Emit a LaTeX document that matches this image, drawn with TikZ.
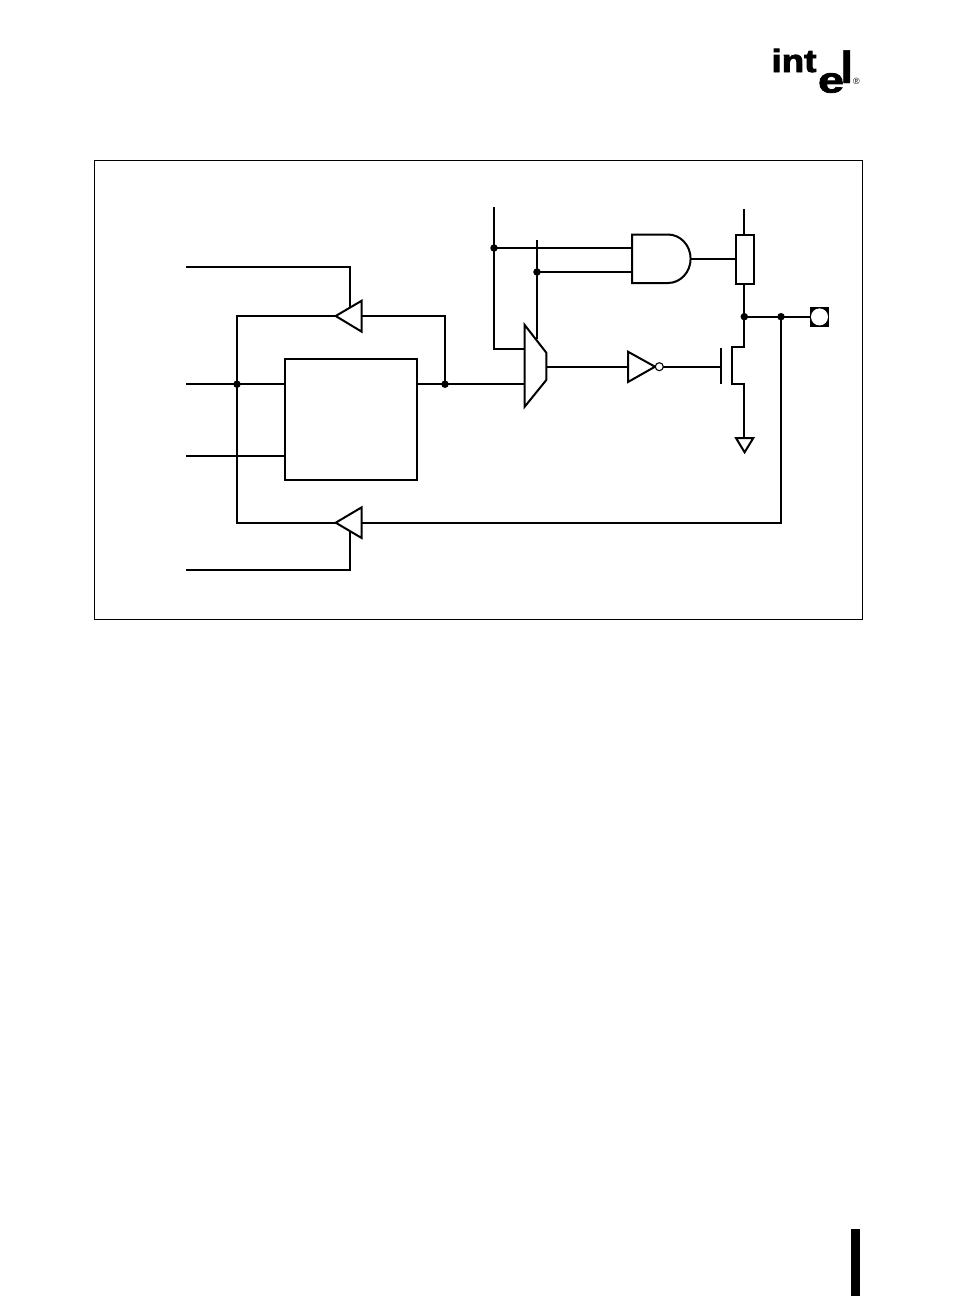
\documentclass[tikz,border=0pt]{standalone}
\usepackage{fontspec}
\setmainfont{Liberation Sans}
\usetikzlibrary{calc}
\tikzset{
  wire/.style={draw=black,line width=2pt,line join=miter},
  gate/.style={draw=black,fill=white,line width=2pt,line join=miter},
  junction/.style={circle,fill=black,inner sep=0pt,minimum size=7.5pt},
  bubble/.style={circle,draw=black,fill=white,line width=1.1pt,inner sep=0pt,minimum size=8pt},
  logo/.style={inner sep=0pt,outer sep=0pt,font=\bfseries,anchor=base west,transform shape},
}
\begin{document}
\begin{tikzpicture}[x=1pt,y=-1pt]
\useasboundingbox (0,0) rectangle (954,1296);
% page frame and margin bar
\draw[black,line width=1pt] (94.5,160.5) rectangle (862.5,619.5);
\fill[black] (851,1229) rectangle (860,1296);
% logo
\node[logo,xscale=1.15] (logoint) at (771.5,72) {\fontsize{32}{32}\selectfont\addfontfeatures{FakeBold=2.5}int};
\node[logo,xscale=1.3] (logoe) at (818,92.5) {\fontsize{36}{36}\selectfont\addfontfeatures{FakeBold=2}e};
\node[logo] (logol) at (840.5,83) {\fontsize{45}{45}\selectfont\addfontfeatures{FakeBold=1}l};
\node[inner sep=0pt,font=\fontsize{9}{9}\selectfont] (logor) at (856.5,81) {®};
% coordinates
\coordinate (topA) at (494,207);
\coordinate (topB) at (537,240);
\coordinate (jA) at (494,248);
\coordinate (jB) at (537,272);
\coordinate (muxA) at (524.7,348.7);
\coordinate (muxB) at (524.7,384.2);
\coordinate (muxT) at (537,338.5);
\coordinate (muxO) at (546.3,366.7);
\coordinate (andA) at (632,248);
\coordinate (andB) at (632,272);
\coordinate (andO) at (690.6,259);
\coordinate (resL) at (735.7,259);
\coordinate (vdd) at (744.3,209);
\coordinate (resT) at (744.3,234.5);
\coordinate (resB) at (744.3,284);
\coordinate (invI) at (628,366.7);
\coordinate (gateG) at (720.7,366.7);
\coordinate (chT) at (744.3,347.3);
\coordinate (chB) at (744.3,383.7);
\coordinate (gnd) at (744.3,438);
\coordinate (jC) at (744.3,316.7);
\coordinate (jD) at (781,316.7);
\coordinate (padL) at (810,316.7);
\coordinate (jE) at (445,384.2);
\coordinate (jF) at (237,384.2);
\coordinate (inA) at (186,384.2);
\coordinate (inB) at (186,455.7);
\coordinate (boxA) at (284.7,384.2);
\coordinate (boxB) at (284.7,455.7);
\coordinate (boxO) at (417,384.2);
\coordinate (ctlT) at (186,266.7);
\coordinate (ctlB) at (186,570);
\coordinate (trTtip) at (335.7,316);
\coordinate (trTr) at (361.7,316);
\coordinate (trBtip) at (335.7,522.7);
\coordinate (trBr) at (361.7,522.7);
% wires
\draw[wire] (topA) -- (jA) -- (muxA -| jA) -- (muxA);
\draw[wire] (jA) -- (andA);
\draw[wire] (topB) -- (muxT);
\draw[wire] (jB) -- (andB);
\draw[wire] (boxO) -- (muxB);
\draw[wire] (muxO) -- (invI);
\draw[wire] (andO) -- (resL);
\draw[wire] (vdd) -- (resT);
\draw[wire] (resB) -- (jC) -- (chT) -- (732.3,347.3) -- (732.3,383.7) -- (chB) -- (gnd);
\draw[wire] (jC) -- (padL);
\draw[wire] (jD) -- (jD |- trBr) -- (trBr);
\draw[wire] (jE) -- (jE |- trTr) -- (trTr);
\draw[wire] (trTtip) -- (trTtip -| jF) -- (trBtip -| jF) -- (trBtip);
\draw[wire] (inA) -- (boxA);
\draw[wire] (inB) -- (boxB);
\draw[wire] (ctlT) -- (350.3,266.7) -- (350.3,308);
\draw[wire] (ctlB) -- (350.3,570) -- (350.3,531);
\draw[wire] (720.7,348) -- (720.7,383.7);
% box
\draw[gate] (284.7,359) rectangle (417,480);
% gates
\draw[gate] (524.7,325) -- (546.3,352.7) -- (546.3,380) -- (524.7,406.7) -- cycle;
\draw[gate] (632,234.5) -- (668,234.5) .. controls (680.5,234.5) and (690.6,245.4) .. (690.6,258.75) .. controls (690.6,272.1) and (680.5,283) .. (668,283) -- (632,283) -- cycle;
\draw[gate] (735.7,234.5) rectangle (754.3,284);
\draw[gate] (628,351.7) -- (655,366.7) -- (628,382) -- cycle;
\draw[wire] (663.3,366.7) -- (gateG);
\node[bubble] (inv) at (659.3,366.7) {};
\draw[gate] (736,438) -- (753.3,438) -- (744.6,452.3) -- cycle;
\draw[gate] (335.7,316) -- (361.7,300.7) -- (361.7,331.7) -- cycle;
\draw[gate] (335.7,522.7) -- (361.7,507.3) -- (361.7,538) -- cycle;
% pad
\fill[black] (810,307) rectangle (829,326.7);
\node[circle,fill=white,inner sep=0pt,minimum size=17pt] (pad) at (819.5,316.9) {};
% junctions
\node[junction] (dA) at (jA) {};
\node[junction] (dB) at (jB) {};
\node[junction] (dC) at (jC) {};
\node[junction] (dD) at (jD) {};
\node[junction] (dE) at (jE) {};
\node[junction] (dF) at (jF) {};
\end{tikzpicture}
\end{document}
